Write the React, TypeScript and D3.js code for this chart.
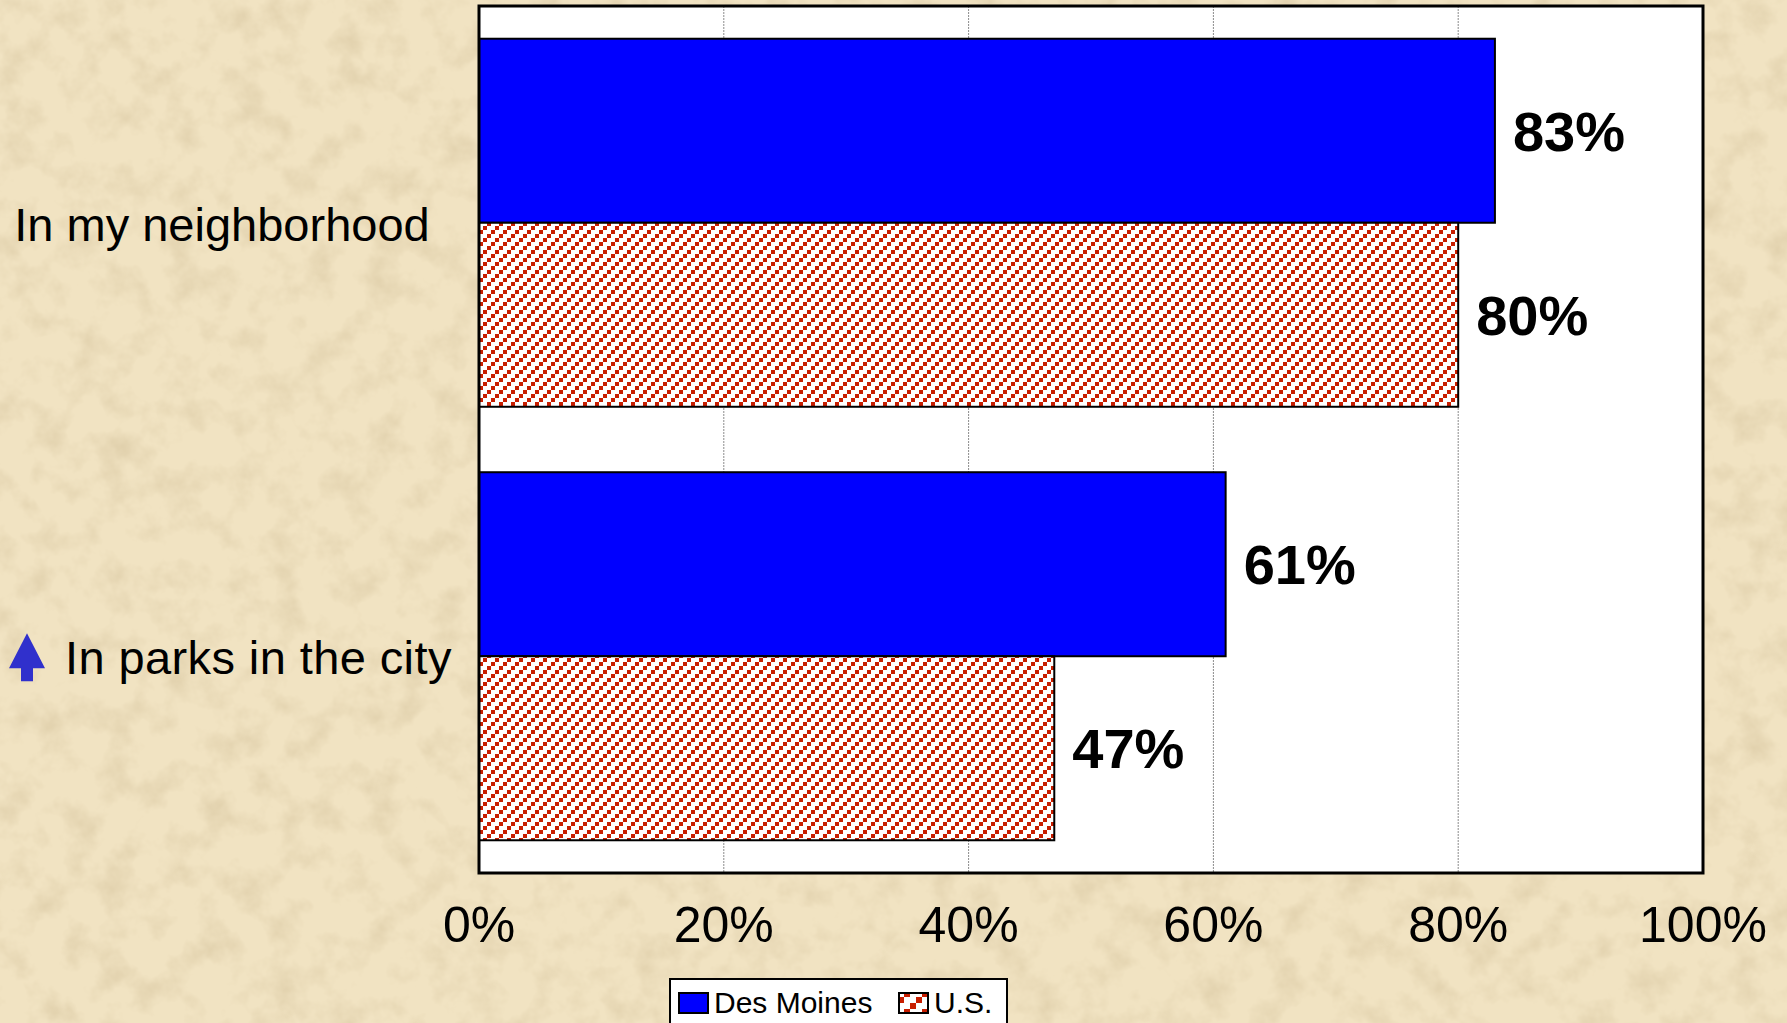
import React, { useEffect, useRef } from "react";
import * as d3 from "d3";

const categories = ["In my neighborhood", "In parks in the city"];
const seriesNames = ["Des Moines", "U.S."];
const desMoines = [83, 61];
const us = [80, 47];
const tickValues = [0, 20, 40, 60, 80, 100];
const upArrowCategories = ["In parks in the city"];

const FONT = "Arial, 'Liberation Sans', Helvetica, sans-serif";

const App: React.FC = () => {
	const chartRef = useRef<SVGSVGElement | null>(null);

	useEffect(() => {
		if (!chartRef.current) return;

		const width = 1787;
		const height = 1023;
		const margin = { top: 6, right: 84, bottom: 150, left: 479 };

		const svg = d3.select(chartRef.current);
		const defs = svg.append("defs");

		// parchment texture
		const filt = defs
			.append("filter")
			.attr("id", "paper")
			.attr("x", 0)
			.attr("y", 0)
			.attr("width", "100%")
			.attr("height", "100%");
		filt.append("feTurbulence")
			.attr("type", "fractalNoise")
			.attr("baseFrequency", "0.03")
			.attr("numOctaves", 4)
			.attr("seed", 7);
		filt.append("feColorMatrix")
			.attr("type", "matrix")
			.attr(
				"values",
				"0 0 0 0 0.6  0 0 0 0 0.48  0 0 0 0 0.28  0.9 0 0 0 -0.4"
			);

		// hatch for U.S.
		const hatch = (id: string, s: number) => {
			const p = defs
				.append("pattern")
				.attr("id", id)
				.attr("patternUnits", "userSpaceOnUse")
				.attr("width", 12 * s)
				.attr("height", 12 * s);
			p.append("rect")
				.attr("width", 12 * s)
				.attr("height", 12 * s)
				.attr("fill", "#ffffff");
			[
				[8, 0],
				[4, 4],
				[0, 8],
			].forEach(([x, y]) => {
				p.append("rect")
					.attr("x", x * s)
					.attr("y", y * s)
					.attr("width", 4 * s)
					.attr("height", 4 * s)
					.attr("fill", "#c81e00");
			});
		};
		hatch("hatch", 1);
		hatch("hatchLegend", 1.5);

		svg.append("rect")
			.attr("width", width)
			.attr("height", height)
			.attr("fill", "#f1e3c2");
		svg.append("rect")
			.attr("width", width)
			.attr("height", height)
			.attr("filter", "url(#paper)");

		const innerW = width - margin.left - margin.right;
		const innerH = height - margin.top - margin.bottom;

		const g = svg
			.append("g")
			.attr("transform", `translate(${margin.left},${margin.top})`);

		const xScale = d3.scaleLinear().domain([0, 100]).range([0, innerW]);
		const yScale = d3
			.scaleBand()
			.domain(categories)
			.range([0, innerH])
			.paddingInner(0.151)
			.paddingOuter(0.0755);
		const ySub = d3
			.scaleBand()
			.domain(seriesNames)
			.range([0, yScale.bandwidth()])
			.padding(0);

		g.append("rect")
			.attr("width", innerW)
			.attr("height", innerH)
			.attr("fill", "#ffffff");

		g.selectAll(".grid")
			.data(tickValues.slice(1, -1))
			.enter()
			.append("line")
			.attr("class", "grid")
			.attr("x1", (d) => xScale(d))
			.attr("x2", (d) => xScale(d))
			.attr("y1", 0)
			.attr("y2", innerH)
			.attr("stroke", "#8c8c8c")
			.attr("stroke-width", 1)
			.attr("stroke-dasharray", "2,1");

		const rows = categories.map((c, i) => ({
			cat: c,
			values: [desMoines[i], us[i]],
		}));

		const fills = ["#0000ff", "url(#hatch)"];

		rows.forEach((row) => {
			row.values.forEach((v, j) => {
				const y = (yScale(row.cat) || 0) + (ySub(seriesNames[j]) || 0);
				g.append("rect")
					.attr("x", 0)
					.attr("y", y)
					.attr("width", xScale(v))
					.attr("height", ySub.bandwidth())
					.attr("fill", fills[j])
					.attr("stroke", "#000")
					.attr("stroke-width", 2);
				g.append("text")
					.attr("x", xScale(v) + 18)
					.attr("y", y + ySub.bandwidth() / 2 + 20)
					.attr("font-family", FONT)
					.attr("font-weight", "bold")
					.attr("font-size", 56)
					.attr("fill", "#000")
					.text(`${v}%`);
			});
		});

		// plot border
		g.append("rect")
			.attr("width", innerW)
			.attr("height", innerH)
			.attr("fill", "none")
			.attr("stroke", "#000")
			.attr("stroke-width", 3);

		// x tick labels
		g.selectAll(".tick-label")
			.data(tickValues)
			.enter()
			.append("text")
			.attr("class", "tick-label")
			.attr("x", (d) => xScale(d))
			.attr("y", innerH + 69)
			.attr("text-anchor", "middle")
			.attr("font-family", FONT)
			.attr("font-size", 50)
			.attr("fill", "#000")
			.text((d) => `${d}%`);

		// category labels
		categories.forEach((c) => {
			const cy = margin.top + (yScale(c) || 0) + yScale.bandwidth() / 2;
			const hasArrow = upArrowCategories.includes(c);
			if (hasArrow) {
				svg.append("path")
					.attr(
						"d",
						`M27,${cy - 23} L45,${cy + 12} L33,${cy + 12} L33,${cy + 25} L21,${cy + 25} L21,${cy + 12} L9,${cy + 12} Z`
					)
					.attr("fill", "#3030cc");
			}
			svg.append("text")
				.attr("x", hasArrow ? 65 : 222)
				.attr("y", cy + 18)
				.attr("text-anchor", hasArrow ? "start" : "middle")
				.attr("font-family", FONT)
				.attr("font-size", 47)
				.attr("letter-spacing", hasArrow ? 0.4 : 0)
				.attr("fill", "#000")
				.text(c);
		});

		// legend
		const lg = svg.append("g").attr("transform", "translate(670,979)");
		lg.append("rect")
			.attr("width", 337)
			.attr("height", 60)
			.attr("fill", "#ffffff")
			.attr("stroke", "#000")
			.attr("stroke-width", 2);
		const legendX = [9, 229];
		seriesNames.forEach((s, i) => {
			lg.append("rect")
				.attr("x", legendX[i])
				.attr("y", 14)
				.attr("width", 29)
				.attr("height", 20)
				.attr("fill", i === 0 ? "#0000ff" : "url(#hatchLegend)")
				.attr("stroke", "#000")
				.attr("stroke-width", 2);
			lg.append("text")
				.attr("x", legendX[i] + 35)
				.attr("y", 34)
				.attr("font-family", FONT)
				.attr("font-size", 30)
				.attr("fill", "#000")
				.text(s);
		});

		return () => {
			svg.selectAll("*").remove();
		};
	}, []);

	return (
		<svg
			ref={chartRef}
			width={1787}
			height={1023}
			style={{ position: "absolute", left: 0, top: 0, display: "block" }}
		/>
	);
};

export default App;
